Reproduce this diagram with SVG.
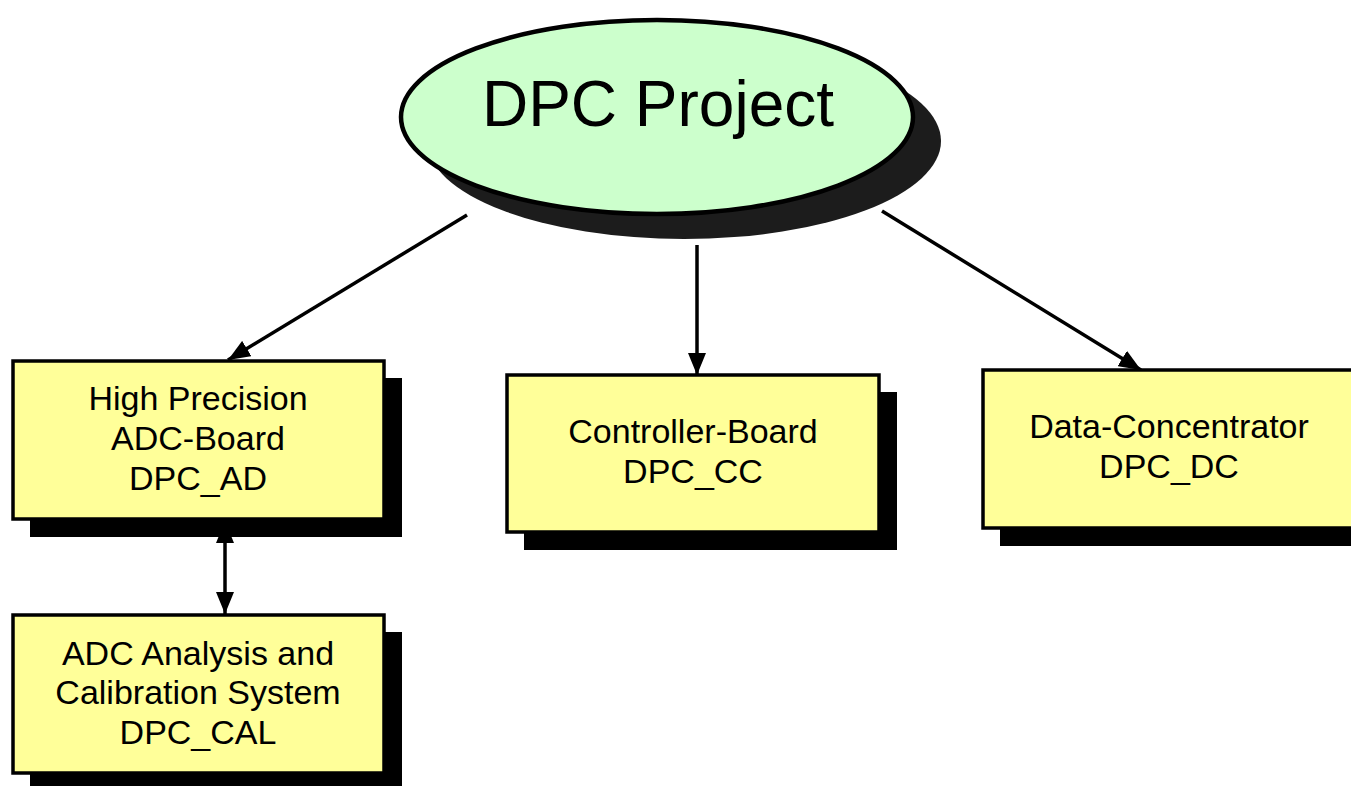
<svg xmlns="http://www.w3.org/2000/svg" width="1351" height="786" viewBox="0 0 1351 786">
<style>
.box{fill:#FFFF99;stroke:#000;stroke-width:3.5}
.sh{fill:#000}
.t{font-family:"Liberation Sans",Arial,sans-serif;font-size:34px;fill:#000;text-anchor:middle}
.c{stroke:#000;stroke-width:3.5;fill:none}
</style>
<defs>
<marker id="ah" viewBox="0 0 22 18" refX="22" refY="9" markerWidth="22" markerHeight="18" markerUnits="userSpaceOnUse" orient="auto-start-reverse">
<path d="M0,0 L22,9 L0,18 z" fill="#000"/>
</marker>
</defs>
<rect width="1351" height="786" fill="#fff"/>
<g id="root">
<ellipse cx="684" cy="141" rx="257" ry="98" fill="#1c1c1c"/>
<ellipse cx="657" cy="117" rx="256" ry="97" fill="#CCFFCC" stroke="#000" stroke-width="4.5"/>
<text x="658" y="126" class="t" style="font-size:64px">DPC Project</text>
</g>
<g id="connectors">
<line x1="467" y1="215" x2="228" y2="360" class="c" marker-end="url(#ah)"/>
<line x1="697" y1="245" x2="697" y2="375" class="c" marker-end="url(#ah)"/>
<line x1="882" y1="211" x2="1141" y2="370" class="c" marker-end="url(#ah)"/>
<line x1="225" y1="521" x2="225" y2="614" class="c" marker-start="url(#ah)" marker-end="url(#ah)"/>
</g>
<g id="ad">
<rect x="30" y="378" width="372" height="159" class="sh"/>
<rect x="13" y="361" width="371" height="158" class="box"/>
<text class="t" x="198"><tspan x="198" y="410">High Precision</tspan><tspan x="198" y="450">ADC-Board</tspan><tspan x="198" y="490">DPC_AD</tspan></text>
</g>
<g id="cal">
<rect x="30" y="632" width="372" height="160" class="sh"/>
<rect x="13" y="615" width="371" height="158" class="box"/>
<text class="t" x="198"><tspan x="198" y="665">ADC Analysis and</tspan><tspan x="198" y="704">Calibration System</tspan><tspan x="198" y="744">DPC_CAL</tspan></text>
</g>
<g id="cc">
<rect x="524" y="392" width="373" height="158" class="sh"/>
<rect x="507" y="375" width="372" height="157" class="box"/>
<text class="t" x="693"><tspan x="693" y="443">Controller-Board</tspan><tspan x="693" y="483">DPC_CC</tspan></text>
</g>
<g id="dc">
<rect x="1000" y="387" width="373" height="159" class="sh"/>
<rect x="983" y="370" width="372" height="158" class="box"/>
<text class="t" x="1169"><tspan x="1169" y="438">Data-Concentrator</tspan><tspan x="1169" y="478">DPC_DC</tspan></text>
</g>
</svg>
